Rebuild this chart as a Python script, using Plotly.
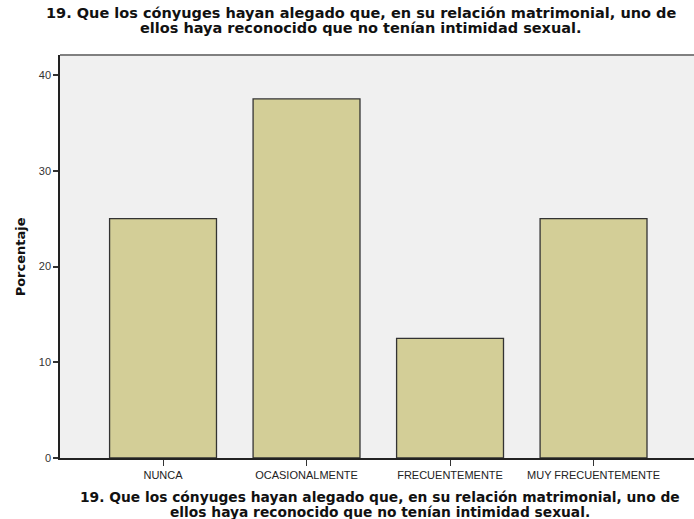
import plotly.graph_objects as go

categories = ["NUNCA", "OCASIONALMENTE", "FRECUENTEMENTE", "MUY FRECUENTEMENTE"]
values = [25.0, 37.5, 12.5, 25.0]
y_ticks = [0, 10, 20, 30, 40]
title_lines = [
    "19. Que los cónyuges hayan alegado que, en su relación matrimonial, uno de",
    "ellos haya reconocido que no tenían intimidad sexual.",
]
y_title = "Porcentaje"

FONT = "Liberation Sans, Arial, sans-serif"
TFONT = "DejaVu Sans, Liberation Sans, sans-serif"

fig = go.Figure()
fig.add_trace(go.Bar(
    x=list(range(len(categories))),
    y=values,
    width=0.745,
    marker=dict(color="#d3ce97", line=dict(color="#333333", width=1.3)),
    hoverinfo="skip",
))

fig.update_layout(
    width=694, height=519,
    margin=dict(l=60, r=0, t=55, b=61),
    paper_bgcolor="white",
    plot_bgcolor="#f0f0f0",
    showlegend=False,
    font=dict(family=FONT, color="#222222"),
    xaxis=dict(
        range=[-0.718, 3.70],
        tickmode="array",
        tickvals=list(range(len(categories))),
        ticktext=categories,
        ticks="outside", ticklen=6, tickcolor="#333333", tickwidth=1,
        showline=True, linecolor="#222222", linewidth=1.5,
        showgrid=False, zeroline=False,
        tickfont=dict(size=11, family=FONT, color="#222222"),
    ),
    yaxis=dict(
        range=[0, 42.09],
        tickmode="array",
        tickvals=y_ticks,
        ticks="outside", ticklen=5, tickcolor="#333333", tickwidth=1.5,
        showline=True, linecolor="#222222", linewidth=1.5,
        showgrid=False, zeroline=False,
        tickfont=dict(size=11, family=FONT, color="#333333"),
    ),
)

# top border of the plot frame
fig.add_shape(type="line", xref="paper", yref="paper", x0=0, x1=1, y0=1, y1=1,
              line=dict(color="#808080", width=2))

# top title (two lines, tight spacing)
for txt, shift in zip(title_lines, [42, 27.5]):
    fig.add_annotation(text="<b>" + txt + "</b>", xref="paper", yref="paper",
                       x=0.474, y=1.0, xanchor="center", yanchor="middle", yshift=shift,
                       showarrow=False, font=dict(size=14.5, family=TFONT, color="#111111"))

# bottom axis title (two lines)
for txt, shift in zip(title_lines, [-38.5, -53.5]):
    fig.add_annotation(text="<b>" + txt + "</b>", xref="paper", yref="paper",
                       x=0.505, y=0, xanchor="center", yanchor="middle", yshift=shift,
                       showarrow=False, font=dict(size=13.8, family=TFONT, color="#111111"))

# y axis title
fig.add_annotation(text="<b>" + y_title + "</b>", xref="paper", yref="paper",
                   x=-0.063, y=0.498, xanchor="center", yanchor="middle", textangle=-90,
                   showarrow=False, font=dict(size=13, family=TFONT, color="#111111"))

fig.write_html("out.html", config={"displayModeBar": False},
               post_script="document.body.style.margin='0';")
